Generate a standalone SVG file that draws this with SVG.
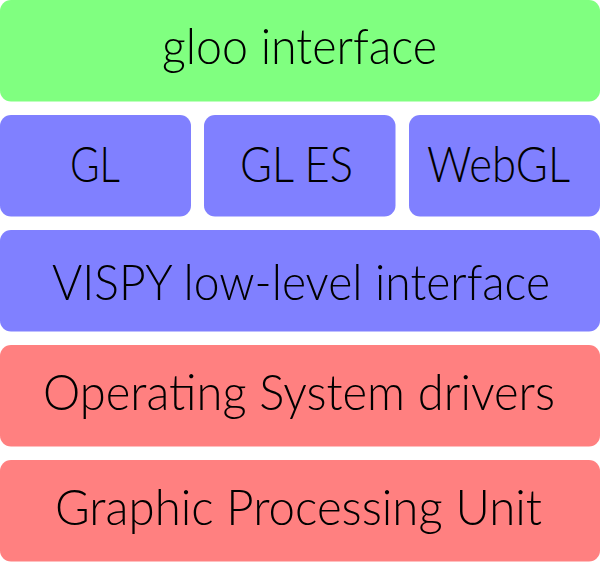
<svg xmlns="http://www.w3.org/2000/svg" width="600" height="562" viewBox="0 0 600 562">
<style>
.g{fill:#80ff80}
.b{fill:#8080ff}
.r{fill:#ff8080}
text{font-family:"Lato","Open Sans","Liberation Sans",sans-serif;font-weight:300;font-size:50px;fill:#000}
</style>
<rect width="600" height="562" fill="#fff"/>
<g id="gloo"><rect class="g" x="0" y="0" width="600" height="101.5" rx="11"/><text x="162" y="63.5" textLength="275" lengthAdjust="spacingAndGlyphs">gloo interface</text></g>
<g id="gl"><rect class="b" x="0" y="115" width="191" height="101.5" rx="11"/><text x="70" y="182" textLength="50" lengthAdjust="spacingAndGlyphs">GL</text></g>
<g id="gles"><rect class="b" x="204" y="115" width="191.5" height="101.5" rx="11"/><text x="240" y="182" textLength="113" lengthAdjust="spacingAndGlyphs">GL ES</text></g>
<g id="webgl"><rect class="b" x="409" y="115" width="191" height="101.5" rx="11"/><text x="427" y="182" textLength="143" lengthAdjust="spacingAndGlyphs">WebGL</text></g>
<g id="vispy"><rect class="b" x="0" y="230" width="600" height="101.5" rx="11"/><text x="52" y="299.5" textLength="498" lengthAdjust="spacingAndGlyphs">VISPY low-level interface</text></g>
<g id="os"><rect class="r" x="0" y="345" width="600" height="101.5" rx="11"/><text x="43" y="410" textLength="512" lengthAdjust="spacingAndGlyphs">Operating System drivers</text></g>
<g id="gpu"><rect class="r" x="0" y="460" width="600" height="101.5" rx="11"/><text x="55" y="525" textLength="487" lengthAdjust="spacingAndGlyphs">Graphic Processing Unit</text></g>
<g id="connectors"/>
</svg>
